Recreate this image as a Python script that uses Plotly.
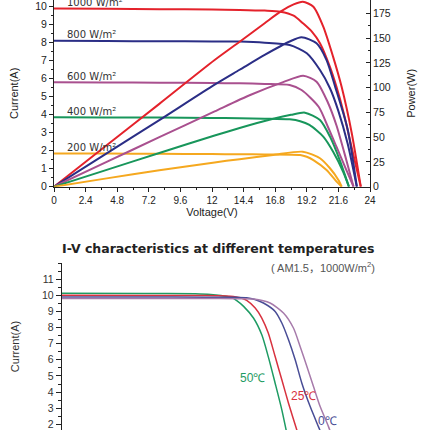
import plotly.graph_objects as go

# ---------------- data: I-V / P-V at different irradiance ----------------
irr_labels = ["1000 W/m²", "800 W/m²", "600 W/m²", "400 W/m²", "200 W/m²"]
irr_colors = ["#e4222b", "#2b2e86", "#a9508f", "#18965b", "#f5a81f"]

v_iv_1000 = [0, 4, 8, 12, 14.1, 16, 17.2, 18.2, 18.9, 19.6, 20.2, 20.95, 21.45, 22.0, 22.6, 23.3]
i_iv_1000 = [9.9, 9.88, 9.86, 9.84, 9.82, 9.78, 9.72, 9.5, 9.08, 8.6, 7.97, 6.67, 5.56, 4.1, 2.2, 0]
v_pv_1000 = [0, 4, 8, 12.2, 14.1, 16, 17.2, 18.2, 18.9, 19.7, 20.45, 21.2, 21.84, 22.6, 23.3]
p_pv_1000 = [0, 41.8, 83.6, 127.8, 146.3, 165, 176.6, 184, 186.7, 181.6, 161.5, 131, 101, 55, 0]

v_iv_800 = [0, 4, 8, 12, 14.1, 16, 17.9, 19.2, 20.2, 20.96, 21.6, 22.3, 23.0]
i_iv_800 = [8.1, 8.09, 8.08, 8.07, 8.06, 8.0, 7.87, 7.41, 6.48, 5.47, 4.2, 2.4, 0]
v_pv_800 = [0, 4, 8, 12.2, 14.1, 16, 17.9, 18.8, 19.94, 20.7, 21.35, 22.3, 23.0]
p_pv_800 = [0, 33.6, 67.2, 103, 118, 133, 146.5, 150.8, 144.7, 127.8, 101, 58, 0]

v_iv_600 = [0, 4, 8, 12, 14.1, 16, 17.9, 18.8, 20.1, 20.8, 21.45, 22.2, 22.75]
i_iv_600 = [5.8, 5.79, 5.78, 5.76, 5.74, 5.71, 5.65, 5.37, 4.44, 3.33, 2.22, 0.93, 0]
v_pv_600 = [0, 4, 8, 12.2, 14.9, 17.4, 18.93, 19.94, 20.8, 21.45, 22.2, 22.75]
p_pv_600 = [0, 25, 50, 76, 92.5, 105.5, 112, 106, 85, 62, 27, 0]

v_iv_400 = [0, 4, 8, 12, 14.1, 16, 17.9, 18.7, 19.4, 20.45, 21.2, 21.96, 22.4]
i_iv_400 = [3.86, 3.85, 3.84, 3.82, 3.8, 3.78, 3.74, 3.64, 3.43, 2.78, 1.94, 0.83, 0]
v_pv_400 = [0, 4, 8, 12.2, 14.1, 16.65, 18, 19.06, 20.2, 20.96, 21.7, 22.4]
p_pv_400 = [0, 17, 34, 51.6, 59.2, 68.5, 72.5, 74.7, 67.3, 50.5, 26.9, 0]

v_iv_200 = [0, 4, 8, 12, 14.1, 16, 18.7, 19.2, 19.7, 20.7, 21.46, 21.85]
i_iv_200 = [1.85, 1.84, 1.83, 1.81, 1.8, 1.79, 1.76, 1.66, 1.48, 0.93, 0.28, 0]
v_pv_200 = [0, 4, 8, 12.2, 14.1, 16.65, 18.9, 20.2, 20.96, 21.6, 21.85]
p_pv_200 = [0, 8.4, 16.6, 24.5, 27.8, 32, 35.3, 28.7, 18.6, 6.8, 0]

x_ticks_top = [0, 2.4, 4.8, 7.2, 9.6, 12, 14.4, 16.8, 19.2, 21.6, 24]
x_tick_text_top = ["0", "2.4", "4.8", "7.2", "9.6", "12", "14.4", "16.8", "19.2", "21.6", "24"]

# ---------------- data: I-V at different temperatures ----------------
temp_labels = ["50℃", "25℃", "0℃", "-25℃"]
temp_colors = ["#1e9b63", "#d8323f", "#494d96", "#a77bab"]

v_t50 = [0, 8, 13, 14.5, 15.5, 16.5, 17.0, 17.7, 18.66, 19.47, 20.1, 20.77, 21.42, 21.84, 22.4]
i_t50 = [10.12, 10.11, 10.09, 10.05, 9.98, 9.87, 9.68, 9.31, 8.59, 7.55, 6.2, 4.55, 2.9, 1.65, 0.0]
v_t25 = [0, 8, 14, 16, 16.7, 17.4, 18.0, 18.83, 19.47, 20.1, 20.77, 21.42, 22.07, 22.88, 23.7]
i_t25 = [10.0, 9.99, 9.98, 9.96, 9.93, 9.85, 9.68, 9.21, 8.59, 7.66, 6.2, 4.76, 3.31, 1.65, 0.0]
v_t0 = [0, 8, 14, 17, 18.0, 18.8, 19.63, 20.77, 21.42, 22.07, 22.72, 23.37, 24.18, 24.98, 26.2]
i_t0 = [9.9, 9.89, 9.88, 9.87, 9.85, 9.74, 9.52, 9.0, 8.28, 7.24, 6.0, 4.55, 3.1, 1.86, 0.0]
v_tm25 = [0, 8, 14, 17, 18.66, 20.28, 21.58, 22.55, 23.2, 23.86, 24.5, 25.15, 25.96, 27.0]
i_tm25 = [9.8, 9.8, 9.8, 9.79, 9.77, 9.52, 8.9, 7.97, 6.83, 5.58, 4.34, 3.1, 1.86, 0.0]

y_ticks_bottom = [2, 3, 4, 5, 6, 7, 8, 9, 10, 11]

FONT = "Liberation Sans"
W = H = 430


def px(x):
    return x / W


def py(y):
    return 1 - y / H


fig = go.Figure()

iv_sets = [(v_iv_1000, i_iv_1000), (v_iv_800, i_iv_800), (v_iv_600, i_iv_600),
           (v_iv_400, i_iv_400), (v_iv_200, i_iv_200)]
pv_sets = [(v_pv_1000, p_pv_1000), (v_pv_800, p_pv_800), (v_pv_600, p_pv_600),
           (v_pv_400, p_pv_400), (v_pv_200, p_pv_200)]

for (v, i), (vp, p), c, lab in zip(iv_sets, pv_sets, irr_colors, irr_labels):
    fig.add_trace(go.Scatter(x=v, y=i, mode="lines", xaxis="x", yaxis="y",
                             line=dict(color=c, width=2, shape="spline", smoothing=0.7),
                             name=lab + " I", hoverinfo="skip"))
    fig.add_trace(go.Scatter(x=vp, y=p, mode="lines", xaxis="x", yaxis="y2",
                             line=dict(color=c, width=2, shape="spline", smoothing=0.7),
                             name=lab + " P", hoverinfo="skip"))
    fig.add_annotation(x=0.84, y=i[0], xref="x", yref="y", text=lab, showarrow=False,
                       xanchor="left", yanchor="middle", yshift=6,
                       font=dict(family="DejaVu Sans", size=10, color="#333333"))

t_sets = [(v_t50, i_t50), (v_t25, i_t25), (v_t0, i_t0), (v_tm25, i_tm25)]
for (v, i), c, lab in zip(t_sets, temp_colors, temp_labels):
    fig.add_trace(go.Scatter(x=v, y=i, mode="lines", xaxis="x2", yaxis="y3",
                             line=dict(color=c, width=1.5, shape="spline", smoothing=0.7),
                             name=lab, hoverinfo="skip"))

# temperature labels
for lab, c, (lx, ly) in zip(temp_labels[:3], temp_colors[:3], [(253, 378), (303, 396), (327.5, 420.5)]):
    fig.add_annotation(x=px(lx), y=py(ly), xref="paper", yref="paper", text=lab,
                       showarrow=False, xanchor="center", yanchor="middle",
                       font=dict(family=FONT, size=12, color=c))

fig.add_annotation(x=px(218), y=py(248), xref="paper", yref="paper",
                   text="<b>I-V characteristics at different temperatures</b>", showarrow=False,
                   xanchor="center", yanchor="middle",
                   font=dict(family="DejaVu Sans", size=12.5, color="#222222"))
fig.add_annotation(x=px(377), y=py(267), xref="paper", yref="paper",
                   text="( AM1.5，1000W/m<sup>2</sup>)", showarrow=False,
                   xanchor="right", yanchor="middle",
                   font=dict(family=FONT + ", Noto Sans CJK SC", size=11, color="#555555"))

axis_common = dict(showline=True, linecolor="#222222", linewidth=1, showgrid=False,
                   zeroline=False, tickcolor="#222222", automargin=False,
                   ticklabeloverflow="allow")

fig.update_layout(
    width=W, height=H, margin=dict(l=0, r=0, t=0, b=0),
    paper_bgcolor="white", plot_bgcolor="white", showlegend=False,
    font=dict(family=FONT, color="#222222"),
    xaxis=dict(domain=[px(54), px(370)], range=[0, 24], anchor="y",
               tickvals=x_ticks_top, ticktext=x_tick_text_top,
               ticks="outside", ticklen=4,
               minor=dict(dtick=1.2, tick0=0, ticks="outside", ticklen=2, tickcolor="#222222"),
               tickfont=dict(size=10, color="#222222"),
               title=dict(text="Voltage(V)", font=dict(size=11, color="#222222"), standoff=3),
               **axis_common),
    yaxis=dict(domain=[py(186.7), 1], range=[0, 10.37], anchor="x",
               dtick=1, tick0=0, ticks="outside", ticklen=4,
               minor=dict(dtick=0.5, tick0=0, ticks="outside", ticklen=2, tickcolor="#222222"),
               tickfont=dict(size=10.5, color="#222222"),
               title=dict(text="Current(A)", font=dict(size=11, color="#222222"), standoff=14),
               **axis_common),
    yaxis2=dict(domain=[py(186.7), 1], range=[0, 188.4], overlaying="y", side="right",
                anchor="x", dtick=25, tick0=0, ticks="inside", ticklen=4,
                minor=dict(dtick=12.5, tick0=0, ticks="inside", ticklen=2, tickcolor="#222222"),
                tickfont=dict(size=10.5, color="#222222"),
                title=dict(text="Power(W)", font=dict(size=11, color="#222222"), standoff=17),
                **axis_common),
    xaxis2=dict(domain=[px(61.7), px(370)], range=[0, 30], anchor="y3", visible=False),
    yaxis3=dict(domain=[0, py(263)], range=[1.65, 12.0], anchor="x2",
                tickvals=y_ticks_bottom, ticks="outside", ticklen=5,
                minor=dict(dtick=0.5, tick0=0, ticks="outside", ticklen=3, tickcolor="#222222"),
                tickfont=dict(size=10.5, color="#333333"),
                title=dict(text="Current(A)", font=dict(size=11, color="#333333"), standoff=20),
                **axis_common),
)

fig.write_html("out.html")
